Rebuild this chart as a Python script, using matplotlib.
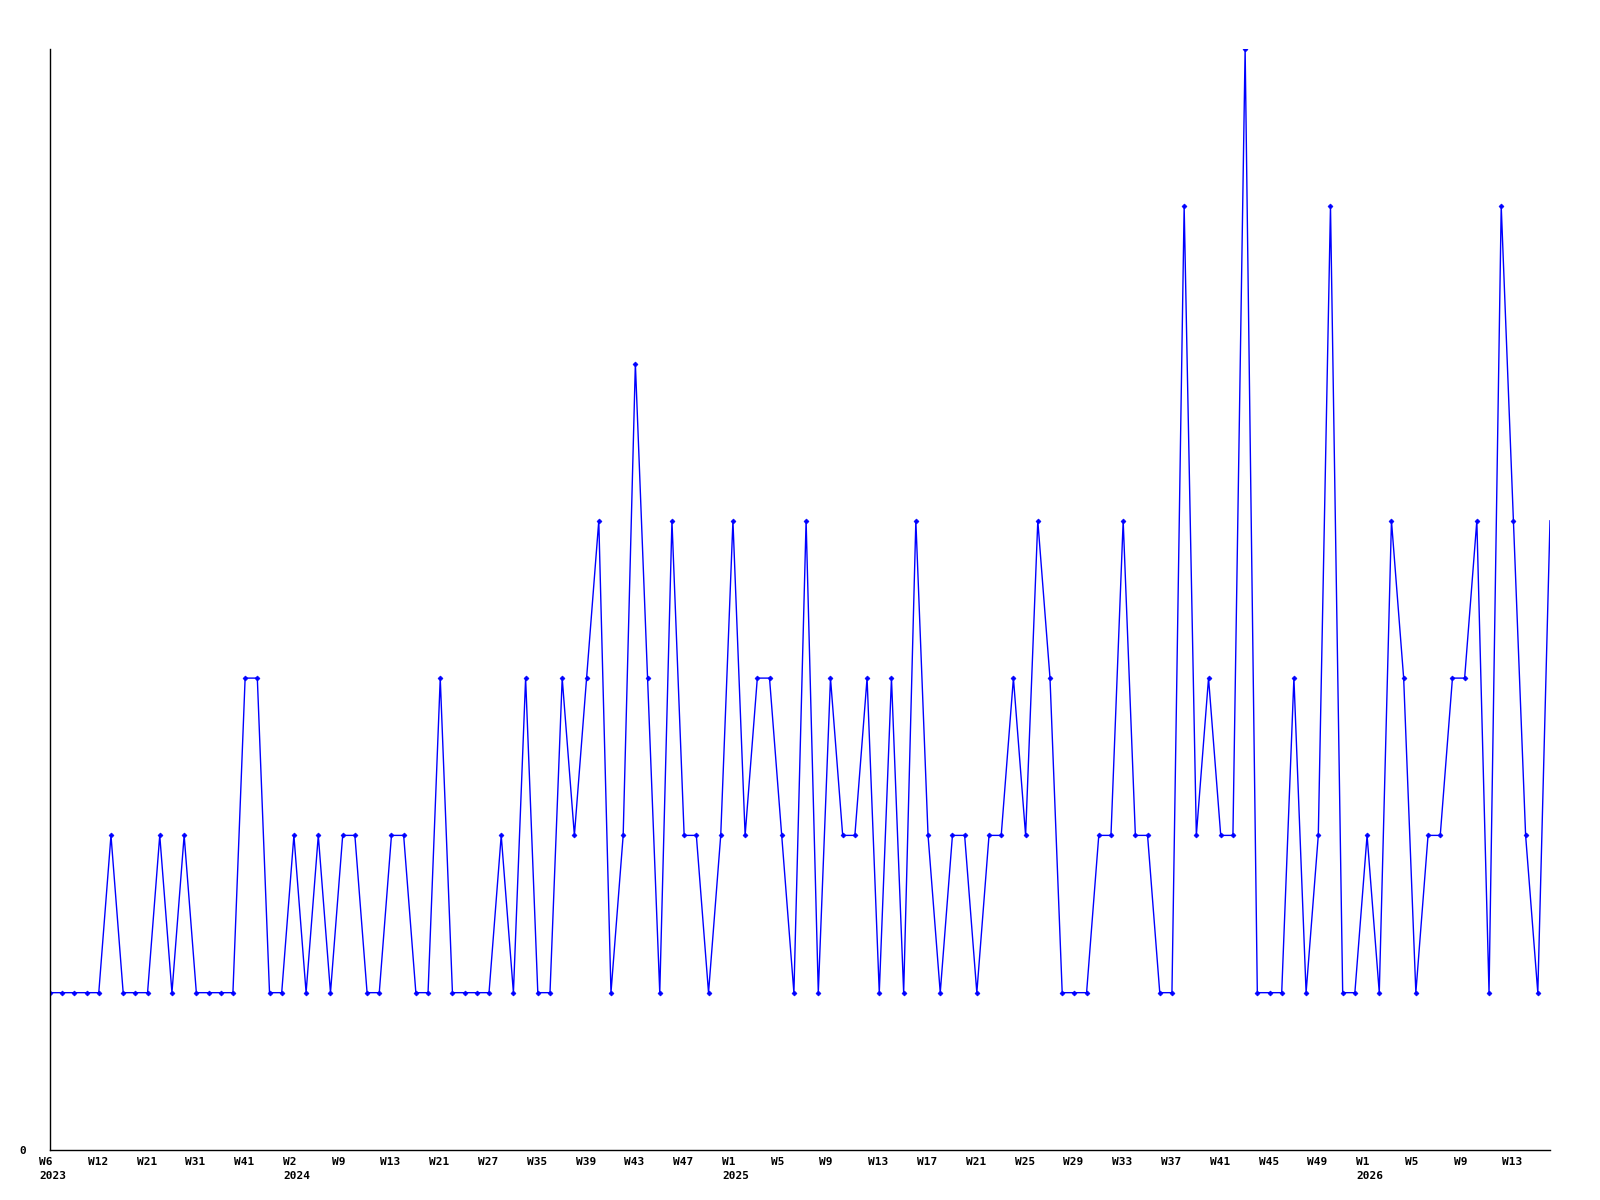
import numpy as np
import matplotlib.pyplot as plt
import matplotlib.transforms as mtransforms

# weekly counts, one point per week with data
counts = [1, 1, 1, 1, 1, 2, 1, 1, 1, 2, 1, 2, 1, 1, 1, 1, 3, 3, 1, 1,
          2, 1, 2, 1, 2, 2, 1, 1, 2, 2, 1, 1, 3, 1, 1, 1, 1, 2, 1, 3,
          1, 1, 3, 2, 3, 4, 1, 2, 5, 3, 1, 4, 2, 2, 1, 2, 4, 2, 3, 3,
          2, 1, 4, 1, 3, 2, 2, 3, 1, 3, 1, 4, 2, 1, 2, 2, 1, 2, 2, 3,
          2, 4, 3, 1, 1, 1, 2, 2, 4, 2, 2, 1, 1, 6, 2, 3, 2, 2, 7, 1,
          1, 1, 3, 1, 2, 6, 1, 1, 2, 1, 4, 3, 1, 2, 2, 3, 3, 4, 1, 6,
          4, 2, 1, 4]

week_labels = ['W6', 'W12', 'W21', 'W31', 'W41', 'W2', 'W9', 'W13', 'W21', 'W27',
               'W35', 'W39', 'W43', 'W47', 'W1', 'W5', 'W9', 'W13', 'W17', 'W21',
               'W25', 'W29', 'W33', 'W37', 'W41', 'W45', 'W49', 'W1', 'W5', 'W9', 'W13']
year_labels = {0: '2023', 5: '2024', 14: '2025', 27: '2026'}
label_step = 4

x = np.arange(len(counts))

fig = plt.figure(figsize=(16, 12), dpi=100)
ax = fig.add_axes([0.03125, 0.0417, 0.9375, 0.9175])

# last point sits on the right edge and has no marker in the original
ax.plot(x, counts, color='#0000ff', linewidth=1.0, marker='D', markersize=2.5,
        markeredgewidth=0.5, markevery=list(range(len(counts) - 1)))

ax.set_xlim(0, len(counts) - 1)
ax.set_ylim(0, max(counts))

for s in ['top', 'right']:
    ax.spines[s].set_visible(False)
for s in ['left', 'bottom']:
    ax.spines[s].set_linewidth(1.0)
    ax.spines[s].set_color('black')

ticks = x[::label_step]
labels = []
for i, w in enumerate(week_labels):
    labels.append(w + '\n' + year_labels[i] if i in year_labels else w)
ax.set_xticks(ticks)
ax.set_xticklabels(labels, fontsize=8, fontfamily='DejaVu Sans Mono',
                   fontweight='bold', linespacing=1.55)
ax.tick_params(axis='x', length=0, pad=5)
offset = mtransforms.ScaledTranslation(-11 / 100, 0, fig.dpi_scale_trans)
for lab in ax.get_xticklabels():
    lab.set_horizontalalignment('left')
    lab.set_verticalalignment('top')
    lab.set_transform(lab.get_transform() + offset)

ax.set_yticks([0])
ax.set_yticklabels(['0'], fontsize=8, fontfamily='DejaVu Sans Mono', fontweight='bold')
ax.tick_params(axis='y', length=0, pad=22)
for lab in ax.get_yticklabels():
    lab.set_horizontalalignment('left')

plt.savefig('out.png')
